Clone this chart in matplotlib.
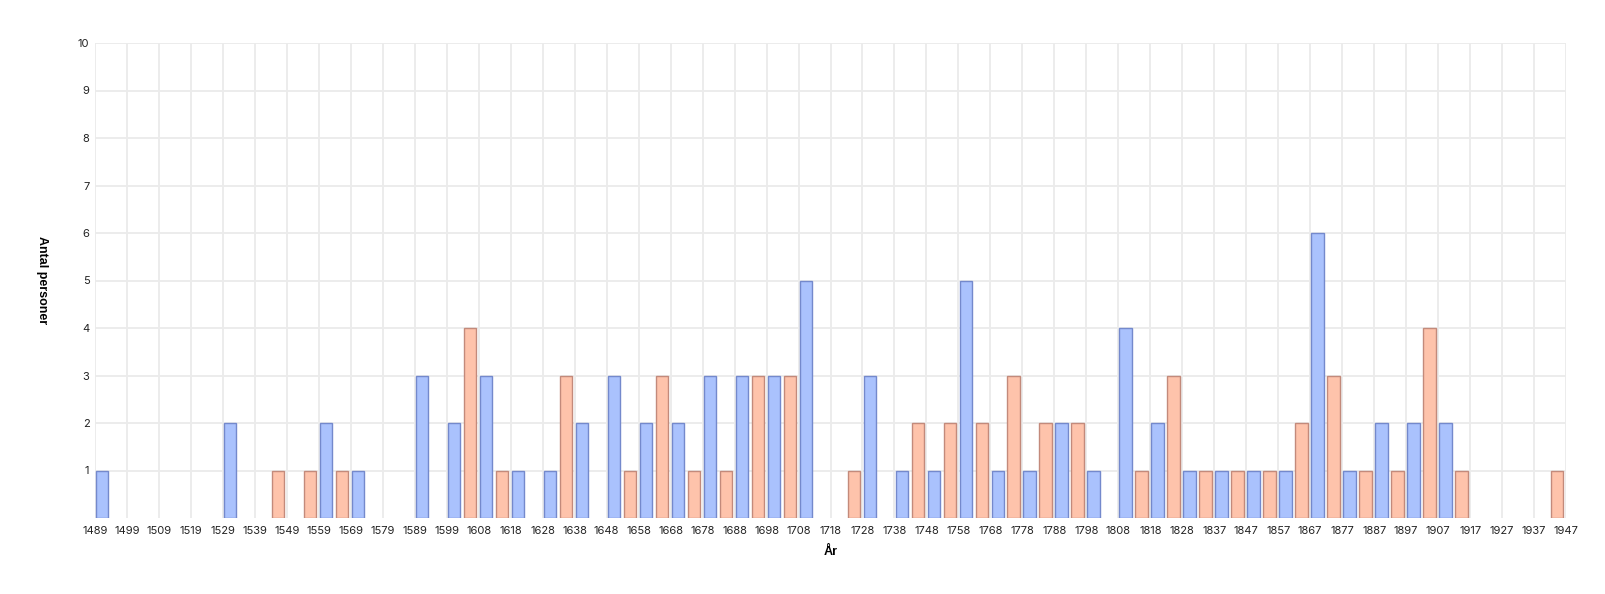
import numpy as np
import matplotlib
matplotlib.use("Agg")
import matplotlib.pyplot as plt

# Histogram bins: 92 bins of equal width from 1489 to 1947
start_year = 1489
end_year = 1947
n_bins = 92
# counts per bin (index -> value); bins not listed are 0
bin_index = [0, 8, 11, 13, 14, 15, 16, 20, 22, 23, 24, 25, 26, 28, 29, 30,
             32, 33, 34, 35, 36, 37, 38, 39, 40, 41, 42, 43, 44, 47, 48,
             50, 51, 52, 53, 54, 55, 56, 57, 58, 59, 60, 61, 62,
             64, 65, 66, 67, 68, 69, 70, 71, 72, 73, 74, 75, 76, 77, 78, 79,
             80, 81, 82, 83, 84, 85, 91]
bin_count = [1, 2, 1, 1, 2, 1, 1, 3, 2, 4, 3, 1, 1, 1, 3, 2,
             3, 1, 2, 3, 2, 1, 3, 1, 3, 3, 3, 3, 5, 1, 3,
             1, 2, 1, 2, 5, 2, 1, 3, 1, 2, 2, 2, 1,
             4, 1, 2, 3, 1, 1, 1, 1, 1, 1, 1, 2, 6, 3, 1, 1,
             2, 1, 2, 4, 2, 1, 1]
y_ticks = [1, 2, 3, 4, 5, 6, 7, 8, 9, 10]
x_label = "År"
y_label = "Antal personer"

W, H = 1606, 594
fig = plt.figure(figsize=(W / 100, H / 100), dpi=100)
L, R, T, B = 95, 1566, 43, 518
ax = fig.add_axes([L / W, 1 - B / H, (R - L) / W, (B - T) / H])

bw = (end_year - start_year) / n_bins
edges = start_year + bw * np.arange(n_bins + 1)
blue_fill, blue_edge = "#aac2fd", "#7489cc"
orange_fill, orange_edge = "#fec3ab", "#c38a7b"
for i, c in zip(bin_index, bin_count):
    x0 = edges[i]
    fc, ec = (blue_fill, blue_edge) if i % 2 == 0 else (orange_fill, orange_edge)
    ax.bar(x0 + bw * 0.07, c, width=bw * 0.77, align="edge",
           color=fc, edgecolor=ec, linewidth=1.0, zorder=3)

ax.set_xlim(start_year, end_year)
ax.set_ylim(0, 10)
major_edges = edges[::2]
ax.set_xticks(major_edges)
ax.set_xticklabels([str(int(np.floor(e + 0.5))) for e in major_edges])
ax.set_yticks(y_ticks)
ax.set_yticklabels([str(v) for v in y_ticks])
ax.grid(True, color="#ebebeb", linewidth=1.3, zorder=0)
ax.set_axisbelow(True)
for s in ax.spines.values():
    s.set_visible(False)
ax.tick_params(axis="both", length=0, labelsize=8, colors="#222222", pad=6)
for lab in ax.get_xticklabels() + ax.get_yticklabels():
    lab.set_fontfamily("Inter")
ax.tick_params(axis="y", pad=4)

ax.set_xlabel(x_label, fontsize=9, fontweight="bold", labelpad=7,
              fontfamily="Liberation Sans")
ax.set_ylabel(y_label, fontsize=9, fontweight="bold",
              fontfamily="Liberation Sans", rotation=270, va="center")
ax.yaxis.set_label_coords(-0.036, 0.5)

fig.savefig("out.png", dpi=100, facecolor="white")
